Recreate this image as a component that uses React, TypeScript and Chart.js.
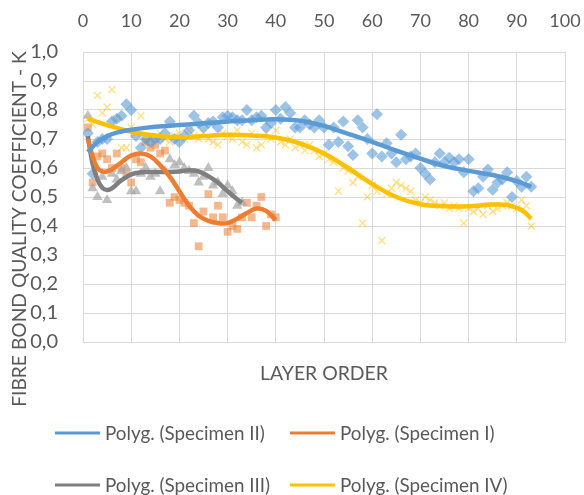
import React, { useEffect, useRef } from 'react';
import { Chart, registerables } from 'chart.js';

Chart.register(...registerables);

// ---------- data ----------
const xTickMin = 0;
const xTickMax = 100;
const xTickStep = 10;
const yTickMin = 0;
const yTickMax = 1;
const yTickStep = 0.1;

// Specimen II (blue diamonds), layer order 1..93
const specimenII = [
  0.72, 0.58, 0.69, 0.70, 0.70, 0.76, 0.77, 0.78, 0.82, 0.80,
  0.71, 0.67, 0.70, 0.69, 0.70, 0.70, 0.72, 0.76, 0.70, 0.69,
  0.71, 0.73, 0.78, 0.755, 0.74, 0.755, 0.76, 0.74, 0.775, 0.78,
  0.775, 0.765, 0.765, 0.80, 0.765, 0.775, 0.78, 0.74, 0.755, 0.80,
  0.77, 0.81, 0.79, 0.74, 0.74, 0.765, 0.75, 0.74, 0.765, 0.74,
  0.68, 0.74, 0.69, 0.76, 0.675, 0.645, 0.765, 0.74, 0.70, 0.65,
  0.785, 0.64, 0.685, 0.65, 0.62, 0.715, 0.63, 0.64, 0.65, 0.60,
  0.58, 0.56, 0.62, 0.65, 0.62, 0.635, 0.62, 0.63, 0.585, 0.63,
  0.52, 0.53, 0.57, 0.595, 0.525, 0.55, 0.56, 0.585, 0.50, 0.555,
  0.535, 0.57, 0.535,
];

// Specimen I (orange squares), layer order 1..40
const specimenI = [
  0.74, 0.55, 0.64, 0.65, 0.63, 0.60, 0.65, 0.60, 0.58, 0.55,
  0.63, 0.62, 0.69, 0.67, 0.68, 0.65, 0.66, 0.48, 0.50, 0.49,
  0.48, 0.47, 0.41, 0.33, 0.45, 0.51, 0.43, 0.47, 0.43, 0.38,
  0.40, 0.39, 0.43, 0.48, 0.43, 0.47, 0.50, 0.40, 0.44, 0.43,
];

// Specimen III (grey triangles), layer order 1..33
const specimenIII = [
  0.78, 0.53, 0.50, 0.57, 0.49, 0.58, 0.56, 0.59, 0.60, 0.52,
  0.52, 0.58, 0.60, 0.57, 0.58, 0.52, 0.59, 0.63, 0.61, 0.62,
  0.60, 0.59, 0.58, 0.55, 0.57, 0.60, 0.54, 0.55, 0.51, 0.54,
  0.52, 0.47, 0.48,
];

// Specimen IV (yellow crosses), layer order 1..93
const specimenIV = [
  0.77, 0.75, 0.85, 0.79, 0.81, 0.87, 0.77, 0.67, 0.67, 0.74,
  0.72, 0.78, 0.69, 0.69, 0.70, 0.72, 0.70, 0.69, 0.71, 0.72,
  0.70, 0.73, 0.71, 0.70, 0.72, 0.70, 0.69, 0.68, 0.72, 0.71,
  0.70, 0.73, 0.69, 0.68, 0.72, 0.67, 0.68, 0.72, 0.70, 0.73,
  0.69, 0.68, 0.70, 0.67, 0.68, 0.66, 0.68, 0.66, 0.64, 0.65,
  0.63, 0.62, 0.52, 0.60, 0.59, 0.55, 0.57, 0.41, 0.50, 0.54,
  0.52, 0.35, 0.51, 0.53, 0.55, 0.54, 0.53, 0.52, 0.49, 0.48,
  0.50, 0.49, 0.48, 0.47, 0.48, 0.46, 0.47, 0.46, 0.41, 0.46,
  0.45, 0.46, 0.44, 0.47, 0.45, 0.46, 0.47, 0.48, 0.47, 0.46,
  0.49, 0.47, 0.40,
];

// Polynomial trend lines
const trendIIx = [1, 3, 5, 7, 10, 15, 20, 25, 30, 35, 40, 45, 50, 55, 60, 65, 70, 75, 80, 85, 90, 93];
const trendIIy = [0.655, 0.69, 0.71, 0.722, 0.732, 0.742, 0.748, 0.754, 0.76, 0.765, 0.768, 0.763, 0.745, 0.718, 0.69, 0.66, 0.632, 0.607, 0.59, 0.576, 0.555, 0.535];

const trendIx = [1, 2, 3, 4, 5, 6, 8, 10, 12, 14, 16, 18, 20, 22, 24, 26, 28, 30, 32, 34, 36, 38, 40];
const trendIy = [0.70, 0.64, 0.60, 0.588, 0.588, 0.595, 0.62, 0.643, 0.65, 0.64, 0.61, 0.57, 0.52, 0.47, 0.435, 0.418, 0.41, 0.41, 0.425, 0.445, 0.46, 0.452, 0.42];

const trendIIIx = [1, 1.5, 2, 3, 4, 5, 6, 8, 10, 12, 14, 16, 18, 20, 22, 24, 26, 28, 30, 32, 33];
const trendIIIy = [0.71, 0.66, 0.615, 0.56, 0.532, 0.524, 0.53, 0.558, 0.578, 0.585, 0.586, 0.586, 0.586, 0.588, 0.592, 0.588, 0.572, 0.55, 0.52, 0.492, 0.48];

const trendIVx = [1, 5, 10, 15, 20, 25, 30, 35, 40, 45, 50, 55, 60, 65, 70, 75, 80, 85, 88, 91, 93];
const trendIVy = [0.77, 0.748, 0.725, 0.712, 0.706, 0.71, 0.715, 0.712, 0.705, 0.685, 0.65, 0.60, 0.545, 0.50, 0.475, 0.468, 0.468, 0.474, 0.472, 0.455, 0.425];

const legendLabels = ['Polyg. (Specimen II)', 'Polyg. (Specimen I)', 'Polyg. (Specimen III)', 'Polyg. (Specimen IV)'];
const xTitle = 'LAYER ORDER';
const yTitle = 'FIBRE BOND QUALITY COEFFICIENT - K';

// ---------- styles ----------
const TEXT = '#595959';
const GRID = '#D9D9D9';
const FONT = 'Lato, "Liberation Sans", sans-serif';
const BLUE = '#5B9BD5';
const ORANGE = '#ED7D31';
const GREY_LINE = '#7F7F7F';
const YELLOW = '#FFC000';

const toPoints = (vals: number[]) => vals.map((v, i) => ({ x: i + 1, y: v }));
const zipPoints = (xs: number[], ys: number[]) => xs.map((x, i) => ({ x, y: ys[i] }));

function fittedFont(ctx: CanvasRenderingContext2D, text: string, width: number) {
  ctx.font = `20px ${FONT}`;
  const w = ctx.measureText(text).width;
  return (20 * width) / w;
}

const extrasPlugin = {
  id: 'extras',
  afterDraw(chart: any) {
    const ctx: CanvasRenderingContext2D = chart.ctx;
    const area = chart.chartArea;
    ctx.save();
    ctx.fillStyle = TEXT;

    // y title
    const ySize = fittedFont(ctx, yTitle, 356);
    ctx.font = `${ySize}px ${FONT}`;
    ctx.textAlign = 'center';
    ctx.textBaseline = 'middle';
    ctx.save();
    ctx.translate(20, 229);
    ctx.rotate(-Math.PI / 2);
    ctx.fillText(yTitle, 0, 0);
    ctx.restore();

    // x title
    const xSize = fittedFont(ctx, xTitle, 128);
    ctx.font = `${xSize}px ${FONT}`;
    ctx.fillText(xTitle, (area.left + area.right) / 2, 374);

    // legend
    const lSize = fittedFont(ctx, legendLabels[0], 160);
    ctx.font = `${lSize}px ${FONT}`;
    ctx.textAlign = 'left';
    const trendSets = chart.data.datasets.filter((d: any) => d.isTrend);
    const cols = [55, 290];
    const rows = [433, 485];
    trendSets.forEach((d: any, i: number) => {
      const cx = cols[i % 2];
      const cy = rows[Math.floor(i / 2)];
      ctx.strokeStyle = d.borderColor;
      ctx.lineWidth = 3;
      ctx.beginPath();
      ctx.moveTo(cx, cy);
      ctx.lineTo(cx + 45, cy);
      ctx.stroke();
      ctx.fillText(d.label, cx + 50, cy + 1);
    });
    ctx.restore();
  },
};

export default function App() {
  const ref = useRef<HTMLCanvasElement>(null);

  useEffect(() => {
    if (!ref.current) return;
    const trend = (label: string, color: string, xs: number[], ys: number[]) => ({
      type: 'line' as const,
      label,
      isTrend: true,
      data: zipPoints(xs, ys),
      borderColor: color,
      backgroundColor: color,
      borderWidth: 4.5,
      pointRadius: 0,
      tension: 0.4,
      fill: false,
      order: 0,
    });
    const chart = new Chart(ref.current, {
      type: 'scatter',
      data: {
        datasets: [
          {
            label: 'Specimen IV',
            data: toPoints(specimenIV),
            pointStyle: 'crossRot',
            pointRadius: 5,
            borderWidth: 1.3,
            borderColor: 'rgba(255,192,0,0.5)',
            backgroundColor: 'rgba(255,192,0,0.5)',
            order: 4,
          },
          {
            label: 'Specimen I',
            data: toPoints(specimenI),
            pointStyle: 'rect',
            pointRadius: 5.5,
            borderWidth: 0,
            backgroundColor: 'rgba(237,125,49,0.55)',
            borderColor: 'rgba(237,125,49,0)',
            order: 3,
          },
          {
            label: 'Specimen III',
            data: toPoints(specimenIII),
            pointStyle: 'triangle',
            pointRadius: 6,
            borderWidth: 0,
            backgroundColor: 'rgba(165,165,165,0.7)',
            borderColor: 'rgba(165,165,165,0)',
            order: 2,
          },
          {
            label: 'Specimen II',
            data: toPoints(specimenII),
            pointStyle: 'rectRot',
            pointRadius: 6,
            borderWidth: 0,
            backgroundColor: 'rgba(91,155,213,0.6)',
            borderColor: 'rgba(91,155,213,0)',
            order: 1,
          },
          trend(legendLabels[0], BLUE, trendIIx, trendIIy),
          trend(legendLabels[1], ORANGE, trendIx, trendIy),
          trend(legendLabels[2], GREY_LINE, trendIIIx, trendIIIy),
          trend(legendLabels[3], YELLOW, trendIVx, trendIVy),
        ] as any,
      },
      options: {
        animation: false,
        responsive: false,
        layout: { padding: { left: 0, top: 0, right: 19, bottom: 153 } },
        plugins: {
          legend: { display: false },
          tooltip: { enabled: false },
        },
        scales: {
          x: {
            type: 'linear',
            position: 'top',
            min: xTickMin,
            max: xTickMax,
            ticks: {
              stepSize: xTickStep,
              color: TEXT,
              font: { family: FONT, size: 18 },
              padding: 0,
              maxRotation: 0,
            },
            grid: { color: GRID, drawTicks: true, tickLength: 20, tickColor: 'rgba(0,0,0,0)' },
            border: { color: GRID },
            afterFit: (s: any) => {
              s.height = 52;
            },
          },
          y: {
            type: 'linear',
            min: yTickMin,
            max: yTickMax,
            ticks: {
              stepSize: yTickStep,
              color: TEXT,
              font: { family: FONT, size: 20 },
              padding: 25,
              callback: (v: any) => Number(v).toFixed(1).replace('.', ','),
            },
            grid: { color: GRID, drawTicks: false },
            border: { color: GRID },
            afterFit: (s: any) => {
              s.width = 83;
            },
          },
        },
      } as any,
      plugins: [extrasPlugin],
    });
    return () => chart.destroy();
  }, []);

  return (
    <div style={{ position: 'fixed', left: 0, top: 0, width: 584, height: 495, background: '#fff' }}>
      <canvas ref={ref} width={584} height={495} />
    </div>
  );
}
